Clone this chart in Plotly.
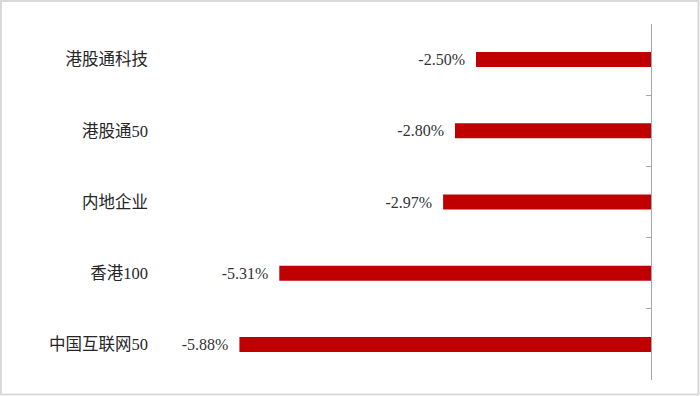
import plotly.graph_objects as go

categories = ["港股通科技", "港股通50", "内地企业", "香港100", "中国互联网50"]
values = [-2.50, -2.80, -2.97, -5.31, -5.88]
boundary_ticks = [-0.5, 0.5, 1.5, 2.5, 3.5, 4.5]

fig = go.Figure()
fig.add_trace(go.Bar(
    x=values, y=categories, orientation="h",
    marker=dict(color="#C00000", line=dict(width=0)),
    width=0.21,
    texttemplate="%{x:.2f}%\u00a0\u00a0",
    textposition="outside",
    constraintext="none",
    cliponaxis=False,
    textfont=dict(family="Liberation Serif, Noto Sans CJK SC", size=16, color="#333333"),
    hoverinfo="skip",
))
# helper trace so the right-hand boundary axis is drawn
fig.add_trace(go.Scatter(x=[None], y=[None], yaxis="y2", showlegend=False, hoverinfo="skip"))

fig.update_layout(
    width=700, height=396,
    margin=dict(l=161, r=49, t=24, b=16),
    paper_bgcolor="white", plot_bgcolor="white",
    showlegend=False,
    xaxis=dict(range=[-7, 0], visible=False, fixedrange=True),
    yaxis=dict(
        type="category", categoryorder="array", categoryarray=categories,
        range=[4.5, -0.5], showline=False, ticks="", showgrid=False, zeroline=False,
        ticklabelstandoff=12,
        tickfont=dict(family="Liberation Serif, Noto Sans CJK SC", size=16.5, color="#262626"),
    ),
    yaxis2=dict(
        overlaying="y", side="right", anchor="x", range=[4.5, -0.5],
        tickmode="array", tickvals=boundary_ticks, ticks="inside", ticklen=5,
        tickcolor="#A6A6A6", tickwidth=1.3,
        showline=True, linecolor="#A6A6A6", linewidth=1.3,
        showticklabels=False, showgrid=False, zeroline=False,
    ),
    shapes=[dict(
        type="rect", xref="paper", yref="paper",
        x0=(1 - 161) / 490, x1=(698.5 - 161) / 490,
        y0=(380 - 394.5) / 356, y1=(380 - 1) / 356,
        line=dict(color="#D9D9D9", width=2), fillcolor="rgba(0,0,0,0)",
    )],
)

fig.write_html("out.html")
